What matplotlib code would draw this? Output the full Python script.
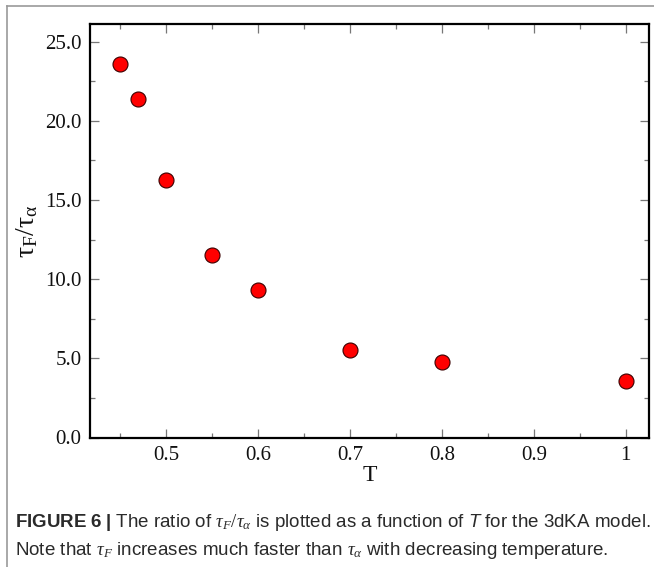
import numpy as np
import matplotlib
matplotlib.use("Agg")
import matplotlib.pyplot as plt
from matplotlib.ticker import MultipleLocator, FormatStrFormatter
from matplotlib.lines import Line2D

# data
T = [0.45, 0.47, 0.50, 0.55, 0.60, 0.70, 0.80, 1.00]
ratio = [23.57, 21.36, 16.25, 11.51, 9.32, 5.53, 4.77, 3.57]

xticks = [0.5, 0.6, 0.7, 0.8, 0.9, 1.0]
xticklabels = ["0.5", "0.6", "0.7", "0.8", "0.9", "1"]

plt.rcParams["font.family"] = ["Liberation Serif", "DejaVu Serif"]
plt.rcParams["mathtext.fontset"] = "custom"
plt.rcParams["mathtext.rm"] = "Liberation Serif"
plt.rcParams["mathtext.it"] = "Liberation Serif:italic"
plt.rcParams["mathtext.bf"] = "Liberation Sans:bold"
plt.rcParams["mathtext.sf"] = "Liberation Sans:italic"

fig = plt.figure(figsize=(6.54, 5.67), dpi=100)
ax = fig.add_axes([90/654, 1-437.5/567, (649-90)/654, (437.5-24.3)/567])

ax.plot(T, ratio, "o", ms=10.8, mfc="#ff0000", mec="#3a0000", mew=0.8)

ax.set_xlim(0.4174, 1.0253)
ax.set_ylim(0, 26.1)
ax.set_xticks(xticks)
ax.set_xticklabels(xticklabels)
ax.xaxis.set_minor_locator(MultipleLocator(0.05))
ax.yaxis.set_major_locator(MultipleLocator(5))
ax.yaxis.set_minor_locator(MultipleLocator(2.5))
ax.yaxis.set_major_formatter(FormatStrFormatter("%.1f"))

ax.tick_params(which="both", direction="in", top=True, right=True,
               color="#777777", labelsize=15, labelcolor="#111111")
ax.tick_params(which="major", length=6.5, width=0.9, pad=6)
ax.tick_params(which="minor", length=3.6, width=0.9)
for s in ax.spines.values():
    s.set_linewidth(1.6)

ax.set_xlabel("T", fontsize=17, labelpad=0, color="#111111")
ax.set_ylabel(r"$\mathrm{\tau_F/\tau_\alpha}$", fontsize=20, color="#111111")
ax.yaxis.set_label_coords(-0.09, 0.5)

# outer frame of the figure panel
fig.add_artist(Line2D([7/654, 7/654], [0, 1-6/567], transform=fig.transFigure, color="#999999", lw=1.2))
fig.add_artist(Line2D([7/654, 1], [1-6/567, 1-6/567], transform=fig.transFigure, color="#999999", lw=1.2))

cap1 = (r"$\mathbf{FIGURE\ 6\ |}$ The ratio of $\tau_F/\tau_\alpha$ is plotted as a function of "
        r"$\mathsf{T}$ for the 3dKA model.")
cap2 = r"Note that $\tau_F$ increases much faster than $\tau_\alpha$ with decreasing temperature."
fig.text(15/654, 1-527/567, cap1, fontsize=13.5, family="Liberation Sans", color="#2a2a2a", va="baseline")
fig.text(15/654, 1-555/567, cap2, fontsize=13.5, family="Liberation Sans", color="#2a2a2a", va="baseline")

fig.savefig("out.png", dpi=100)
